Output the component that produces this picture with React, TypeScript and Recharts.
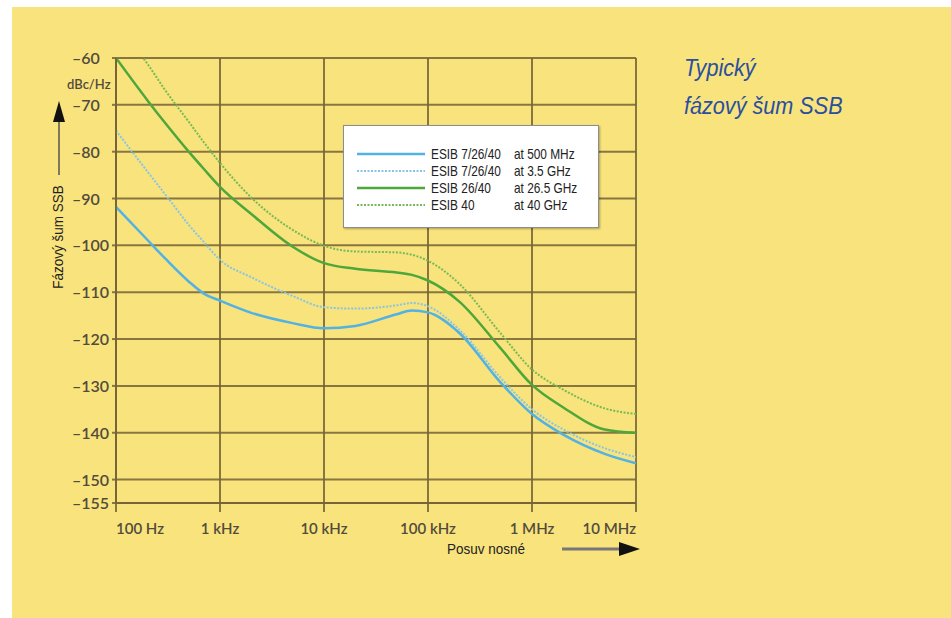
import React from 'react'
import { LineChart, Line, XAxis, YAxis, CartesianGrid, Legend } from 'recharts'

// offset frequency in Hz (log axis)
const freqs = [100, 200, 300, 500, 700, 1e3, 2e3, 5e3, 1e4, 2e4, 5e4, 7e4, 1e5, 2e5, 5e5, 1e6, 2e6, 5e6, 1e7]

// SSB phase noise, dBc/Hz
const esib500M = [-91.8, -98.8, -102.9, -107.7, -110.3, -111.8, -114.4, -116.6, -117.7, -117.2, -114.7, -113.9, -114.3, -118.7, -129.3, -136, -140.4, -144.5, -146.5]
const esib3G5 = [-75.5, -84.2, -89.2, -95.6, -99.3, -103.1, -106.8, -110.8, -113.2, -113.5, -112.8, -112.3, -113, -118, -128.3, -135, -139.3, -143.3, -145.2]
const esib26G5 = [-60, -69, -74, -80, -83.7, -87.5, -93.3, -100.3, -103.8, -105, -105.8, -106.3, -107.5, -112, -122, -129.8, -134.6, -139.3, -140]
const esib40G = [-52.5, -61.2, -67, -73.6, -78, -82.4, -89.8, -96.7, -100.1, -101.3, -101.5, -102, -103.3, -108.2, -118.8, -126.5, -130.8, -134.8, -136]

const seriesKeys = ['s500M', 's3G5', 's26G5', 's40G']
const seriesNames = ['ESIB 7/26/40', 'ESIB 7/26/40', 'ESIB 26/40', 'ESIB 40']
const seriesFreqs = ['at 500 MHz', 'at 3.5 GHz', 'at 26.5 GHz', 'at 40 GHz']

const xTicks = [1e2, 1e3, 1e4, 1e5, 1e6, 1e7]
const xTickLabels = ['100 Hz', '1 kHz', '10 kHz', '100 kHz', '1 MHz', '10 MHz']
const yTicks = [-60, -70, -80, -90, -100, -110, -120, -130, -140, -150, -155]

const chartData = freqs.map((f, i) => ({
  f,
  s500M: esib500M[i],
  s3G5: esib3G5[i],
  s26G5: esib26G5[i],
  s40G: esib40G[i],
}))

const YELLOW = '#f9e37c'
const GRID = '#746336'
const NARROW = "'Liberation Sans Narrow', 'Liberation Sans', Arial, sans-serif"
const TICKFONT = 'Lato, sans-serif'
const TICKCOLOR = '#524c3c'

const colors: Record<string, string> = {
  s500M: '#52b2e3',
  s3G5: '#86c6e4',
  s26G5: '#4ea73a',
  s40G: '#76bb58',
}
const dashes: Record<string, string | undefined> = {
  s500M: undefined,
  s3G5: '2 1.5',
  s26G5: undefined,
  s40G: '2 1.5',
}
const widths: Record<string, number> = { s500M: 2.5, s3G5: 2, s26G5: 2.5, s40G: 2 }

function XTick(props: any) {
  const { x, y, index } = props
  const last = xTicks.length - 1
  const anchor = index === 0 ? 'start' : index === last ? 'end' : 'middle'
  return (
    <text x={x} y={y} dy={18} textAnchor={anchor} fill={TICKCOLOR} fontSize={15} fontFamily={TICKFONT} fontWeight={600}>
      {xTickLabels[index]}
    </text>
  )
}

function YTick(props: any) {
  const { y, payload } = props
  return (
    <text x={72} y={y} dy={6} textAnchor="start" fill={TICKCOLOR} fontSize={16} fontFamily={TICKFONT} fontWeight={600}>
      {'\u2013' + Math.abs(payload.value)}
    </text>
  )
}

function LegendBox() {
  const squeeze: React.CSSProperties = { display: 'inline-block', whiteSpace: 'nowrap', transform: 'scaleX(0.79)', transformOrigin: 'left center' }
  return (
    <div
      style={{
        width: 256, height: 103, boxSizing: 'border-box', background: '#fff',
        border: '1px solid #8d8d8d', boxShadow: '1px 1px 2px rgba(0,0,0,0.3)',
        paddingTop: 19, fontFamily: NARROW, fontSize: 15, color: '#222',
      }}
    >
      {seriesKeys.map((k, i) => (
        <div key={k} style={{ display: 'flex', alignItems: 'center', height: 17 }}>
          <svg width={68} height={6} style={{ marginLeft: 13 }}>
            <line x1={0} y1={3} x2={68} y2={3} stroke={colors[k]} strokeWidth={widths[k]} strokeDasharray={dashes[k]} />
          </svg>
          <span style={{ marginLeft: 6, width: 83 }}><span style={squeeze}>{seriesNames[i]}</span></span>
          <span><span style={squeeze}>{seriesFreqs[i]}</span></span>
        </div>
      ))}
    </div>
  )
}

export default function App() {
  return (
    <div style={{ position: 'absolute', left: 0, top: 0, width: 951, height: 618, background: '#fff', overflow: 'hidden' }}>
      <div style={{ position: 'absolute', left: 12, top: 7, width: 939, height: 611, background: YELLOW }} />
      <div style={{ position: 'absolute', left: 0, top: 0 }}>
        <LineChart width={951} height={618} data={chartData} margin={{ top: 58, right: 315, bottom: 75, left: 0 }}>
          <CartesianGrid stroke={GRID} strokeWidth={2} strokeOpacity={0.85} />
          <XAxis
            dataKey="f"
            type="number"
            scale="log"
            domain={[100, 1e7]}
            ticks={xTicks}
            allowDataOverflow
            height={40}
            tick={<XTick />}
            tickSize={9}
            tickMargin={4}
            tickLine={{ stroke: GRID, strokeWidth: 2, strokeOpacity: 0.85 }}
            axisLine={{ stroke: GRID, strokeWidth: 2, strokeOpacity: 0.85 }}
            interval={0}
          />
          <YAxis
            type="number"
            domain={[-155, -60]}
            ticks={yTicks}
            allowDataOverflow
            width={116}
            tick={<YTick />}
            tickSize={4}
            tickMargin={4}
            tickLine={{ stroke: GRID, strokeWidth: 2, strokeOpacity: 0.85 }}
            axisLine={{ stroke: GRID, strokeWidth: 2, strokeOpacity: 0.85 }}
            interval={0}
          />
          <Legend
            layout="horizontal"
            verticalAlign="middle"
            align="center"
            width={256}
            height={103}
            wrapperStyle={{ left: 343, top: 125, width: 256, height: 103 }}
            content={() => <LegendBox />}
          />
          {seriesKeys.map((k, i) => (
            <Line
              key={k}
              type="monotone"
              dataKey={k}
              name={seriesNames[i] + ' ' + seriesFreqs[i]}
              stroke={colors[k]}
              strokeWidth={widths[k]}
              strokeDasharray={dashes[k]}
              dot={false}
              activeDot={false}
              isAnimationActive={false}
            />
          ))}
        </LineChart>
      </div>
      <svg width={951} height={618} style={{ position: 'absolute', left: 0, top: 0, pointerEvents: 'none' }}>
        <text x={67} y={89} textAnchor="start" fontSize={13} fontFamily={TICKFONT} fontWeight={600} fill={TICKCOLOR}>dBc/Hz</text>
        <line x1={59} y1={175} x2={59} y2={118} stroke="#555" strokeWidth={1.5} />
        <polygon points="59,101 53,122 65,122" fill="#111" />
        <text
          x={0} y={0}
          transform="translate(63,237) rotate(-90) scale(0.9,1)"
          textAnchor="middle"
          fontSize={15}
          fontFamily={NARROW}
          fill="#222"
        >
          Fázový šum SSB
        </text>
        <text x={0} y={0} transform="translate(486,554) scale(0.9,1)" textAnchor="middle" fontSize={15} fontFamily={NARROW} fill="#222">Posuv nosné</text>
        <line x1={562} y1={549} x2={622} y2={549} stroke="#777" strokeWidth={3} />
        <polygon points="640,549 619,542 619,556" fill="#111" />
      </svg>
      <div
        style={{
          position: 'absolute', left: 684, top: 49, fontFamily: NARROW, fontStyle: 'italic',
          fontSize: 23, lineHeight: '38px', color: '#2a4f9f',
          transform: 'scaleX(0.94)', transformOrigin: 'left top',
        }}
      >
        <div>Typický</div>
        <div>fázový šum SSB</div>
      </div>
    </div>
  )
}
